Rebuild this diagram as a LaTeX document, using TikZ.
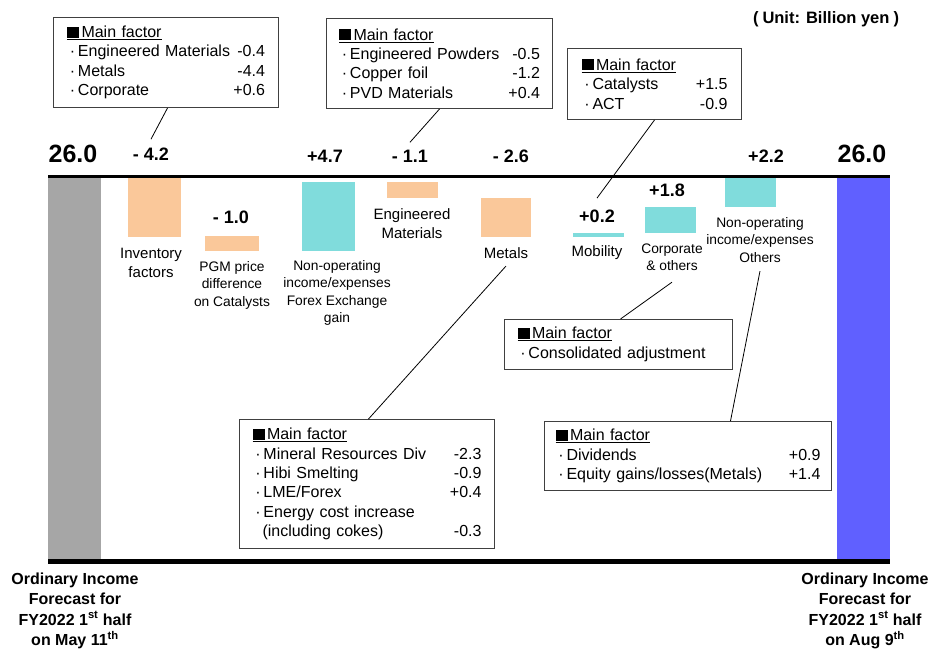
\documentclass[tikz,border=0pt]{standalone}
\usepackage{fontspec}
\setmainfont{Liberation Sans}
\usepackage{xcolor}
\usepackage{tikz}
\definecolor{peach}{HTML}{FAC89A}
\definecolor{aqua}{HTML}{80DCDC}
\definecolor{startgray}{HTML}{A6A6A6}
\definecolor{endblue}{HTML}{6060FF}
\newcommand{\mfhead}{\underline{\rule{12pt}{11pt}\hspace{2.5pt}Main factor}}
\newcommand{\itm}{\makebox[11pt]{·}}

\begin{document}
\begin{tikzpicture}[x=1pt,y=-1pt,
factor/.style={draw=black!75,line width=1pt,fill=white,anchor=north west,align=left,inner ysep=0pt,font=\fontsize{16}{19.3}\selectfont},
val/.style={font=\fontsize{18}{20}\selectfont\bfseries},
total/.style={font=\fontsize{25}{28}\selectfont\bfseries},
lab/.style={align=center,font=\fontsize{15}{19}\selectfont},
labs/.style={align=center,font=\fontsize{13.8}{17.5}\selectfont},
foot/.style={align=center,anchor=north,font=\fontsize{16}{20.5}\selectfont\bfseries},
lead/.style={line width=0.8pt}
]
\useasboundingbox (0,0) rectangle (930,651);
% bars
\fill[startgray] (48,176) rectangle (101,559);
\fill[endblue] (837,176) rectangle (890,559);
\fill[peach] (128,177) rectangle (181,237);
\fill[peach] (205,236) rectangle (259,251);
\fill[aqua] (302,182) rectangle (355,251);
\fill[peach] (387,182) rectangle (438,198);
\fill[peach] (481,198) rectangle (531,237);
\fill[aqua] (573,233) rectangle (624,237);
\fill[aqua] (645,207) rectangle (696,233);
\fill[aqua] (725,176) rectangle (776,207);
\draw[line width=3pt] (48,176) -- (890,176);
\draw[line width=5pt] (48,561) -- (890,561);
\node[font=\fontsize{16.5}{18}\selectfont\bfseries] (unit) at (826,19) {(\hspace{4pt}Unit:\hspace{6pt}Billion yen\hspace{4pt})};
% values
\node[total] (t0) at (73,154) {26.0};
\node[val] (v1) at (151,154) {- 4.2};
\node[val] (v2) at (231,217) {- 1.0};
\node[val] (v3) at (325,156) {+4.7};
\node[val] (v4) at (410,156) {- 1.1};
\node[val] (v5) at (511,156) {- 2.6};
\node[val] (v6) at (597,216) {+0.2};
\node[val] (v7) at (667,190) {+1.8};
\node[val] (v8) at (766,156) {+2.2};
\node[total] (t1) at (862,154) {26.0};
% categories
\node[lab] (l1) at (151,263) {Inventory\\factors};
\node[labs] (l2) at (232,285) {PGM price\\difference\\on Catalysts};
\node[labs] (l3) at (337,293) {Non-operating\\income/expenses\\Forex Exchange\\gain};
\node[lab] (l4) at (412,224) {Engineered\\Materials};
\node[lab] (l5) at (506,253) {Metals};
\node[lab] (l6) at (597,253) {Mobility};
\node[labs] (l7) at (672,257) {Corporate\\\& others};
\node[labs] (l8) at (760,240) {Non-operating\\income/expenses\\Others};
% main factor boxes
\node[factor,text width=198pt,inner xsep=13.5pt,minimum height=90pt] (f1) at (53,17)
  {\mfhead\\ \itm Engineered Materials\hfill -0.4\\ \itm Metals\hfill -4.4\\ \itm Corporate\hfill +0.6};
\node[factor,text width=201pt,inner xsep=12.5pt,minimum height=90pt] (f2) at (326,18)
  {\mfhead\\ \itm Engineered Powders\hfill -0.5\\ \itm Copper foil\hfill -1.2\\ \itm PVD Materials\hfill +0.4};
\node[factor,text width=146pt,inner xsep=14pt,minimum height=71pt] (f3) at (567,48)
  {\mfhead\\ \itm Catalysts\hfill +1.5\hspace*{5pt}\\ \itm ACT\hfill -0.9\hspace*{5pt}};
\node[factor,text width=202pt,inner xsep=13pt,minimum height=50pt] (f4) at (504,319)
  {\mfhead\\ \itm Consolidated adjustment};
\node[factor,text width=229pt,inner xsep=13pt,minimum height=129pt] (f5) at (239,419)
  {\mfhead\\ \itm Mineral Resources Div\hfill -2.3\hspace*{2pt}\\ \itm Hibi Smelting\hfill -0.9\hspace*{2pt}\\
   \itm LME/Forex\hfill +0.4\hspace*{2pt}\\ \itm Energy cost increase\\ \hspace*{10pt}(including cokes)\hfill -0.3\hspace*{2pt}};
\node[factor,text width=265pt,inner xsep=11pt,minimum height=69pt] (f6) at (544,421)
  {\mfhead\\ \itm Dividends\hfill +0.9\hspace*{13pt}\\ \itm Equity gains/losses(Metals)\hfill +1.4\hspace*{13pt}};
% leader lines
\draw[lead] ([xshift=1.5pt]f1.south) -- ([yshift=5pt]v1.north);
\draw[lead] (f2.south) -- ([yshift=4pt]v4.north);
\draw[lead] (f3.south) -- ([yshift=8pt]v6.north);
\draw[lead] ([xshift=2pt]f4.north) -- ([yshift=-8pt]l7.south);
\draw[lead] ([xshift=1.5pt]f5.north) -- ([yshift=-4pt]l5.south);
\draw[lead] ([xshift=42.5pt]f6.north) -- ([yshift=-5pt]l8.south);
% totals
\node[foot] (s0) at (75,569) {Ordinary Income\\Forecast for\\FY2022 1\textsuperscript{st} half\\on May 11\textsuperscript{th}};
\node[foot] (s1) at (865,569) {Ordinary Income\\Forecast for\\FY2022 1\textsuperscript{st} half\\on Aug 9\textsuperscript{th}};
\end{tikzpicture}
\end{document}
